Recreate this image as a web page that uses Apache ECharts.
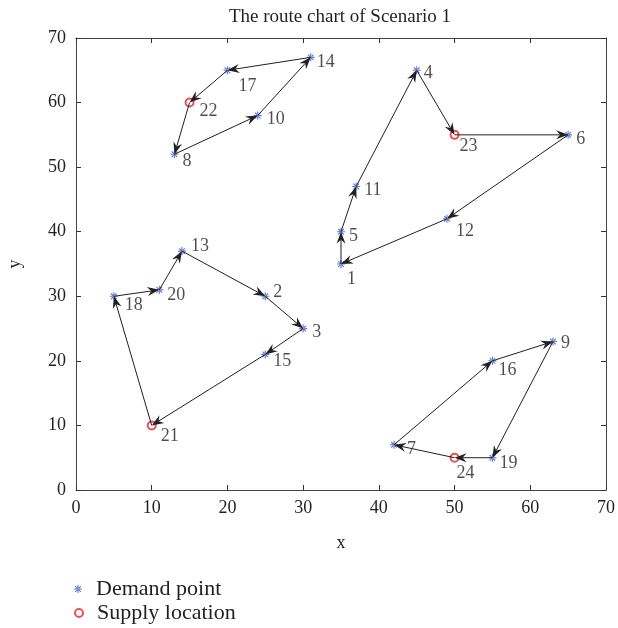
<!DOCTYPE html>
<html><head><meta charset="utf-8">
<script src="https://cdn.jsdelivr.net/npm/echarts@6/dist/echarts.min.js"></script>
<style>html,body{margin:0;padding:0;background:#fff}#c{width:618px;height:628px}</style>
</head><body><div id="c"></div>
<script>
// ---- data ----
const titleText = 'The route chart of Scenario 1';
const demandIds = [1,2,3,4,5,6,7,8,9,10,11,12,13,14,15,16,17,18,19,20];
const demandX   = [35,25,30,45,35,65,42,13,63,24,37,49,14,31,25,55,20,5,55,11];
const demandY   = [35,30,25,65,40,55,7,52,23,58,47,42,37,67,21,20,65,30,5,31];
const supplyIds = [21,22,23,24];
const supplyX   = [10,15,50,50];
const supplyY   = [10,60,55,5];
const routes = [
  [22,8,10,14,17,22],
  [23,6,12,1,5,11,4,23],
  [21,18,20,13,2,3,15,21],
  [24,7,16,9,19,24]
];
const xTicks = [0,10,20,30,40,50,60,70];
const yTicks = [0,10,20,30,40,50,60,70];
const legendNames = ['Demand point','Supply location'];

// ---- styling (label offsets from point centre, px) ----
const labelOffsets = {
  1:[6,15],2:[8,-4],3:[9,4],4:[7,3],5:[8,5],6:[8,4],7:[13,4],8:[8,7],9:[8,2],10:[9,4],
  11:[8,4],12:[9,12],13:[9,-5],14:[6,5],15:[8,7],16:[6,9],17:[11,16],18:[11,9],19:[7,6],20:[8,5],
  21:[8,11],22:[9,9],23:[4,11],24:[1,16]
};
const FONT = '"Liberation Serif", "DejaVu Serif", serif';
const TXT = '#231f20';
const STAR_SIZE = 8, CIRC_SIZE = 8;
const starPath = 'path://M-10 -1.4L10 -1.4L10 1.4L-10 1.4Z M-1.4 -10L1.4 -10L1.4 10L-1.4 10Z M-6 -8L8 6L6 8L-8 -6Z M-6 8L8 -6L6 -8L-8 6Z';

const pos = {};
demandIds.forEach((id,i)=>{ pos[id]=[demandX[i],demandY[i]]; });
supplyIds.forEach((id,i)=>{ pos[id]=[supplyX[i],supplyY[i]]; });

function pointData(ids, xs, ys, size) {
  return ids.map((id,i)=>({
    name: String(id),
    value: [xs[i], ys[i]],
    label: { offset: [labelOffsets[id][0]-size/2, labelOffsets[id][1]] }
  }));
}
const segs = [];
routes.forEach(r=>{ for(let i=0;i<r.length-1;i++){ const a=pos[r[i]], b=pos[r[i+1]]; segs.push([a[0],a[1],b[0],b[1]]); } });

const labelStyle = { show:true, position:'right', distance:0, formatter:p=>p.name, fontFamily:FONT, fontSize:18, color:TXT };

function axisCommon(ticks){
  return { min:ticks[0], max:ticks[ticks.length-1], interval:ticks[1]-ticks[0],
    splitLine:{show:false},
    axisLine:{show:true,onZero:false,lineStyle:{color:'#444',width:1}},
    axisTick:{show:true,inside:true,length:5,lineStyle:{color:'#333'}} };
}
function legendAt(name, top){
  return { data:[name], orient:'vertical', left:74, top:top, itemWidth:8, itemHeight:8, padding:0,
    textStyle:{ fontFamily:FONT, fontSize:22, color:TXT, padding:[0,0,0,9] } };
}

const chart = echarts.init(document.getElementById('c'), null, {renderer:'canvas'});
chart.setOption({
  animation:false,
  backgroundColor:'#fff',
  title:{ text:titleText, left:340, top:8, textAlign:'center', padding:0,
    textStyle:{ fontFamily:FONT, fontSize:19, fontWeight:'normal', color:TXT } },
  grid:{ left:76, right:12, top:38, bottom:138, outerBoundsMode:'none', containLabel:false },
  legend:[ legendAt(legendNames[0], 578), legendAt(legendNames[1], 602) ],
  xAxis:[
    Object.assign(axisCommon(xTicks),{ type:'value', position:'bottom', name:'x', nameLocation:'middle', nameGap:44,
      nameTextStyle:{fontFamily:FONT,fontSize:18,color:TXT},
      axisLabel:{fontFamily:FONT,fontSize:18,color:TXT,margin:9} }),
    Object.assign(axisCommon(xTicks),{ type:'value', position:'top', axisLabel:{show:false} })
  ],
  yAxis:[
    Object.assign(axisCommon(yTicks),{ type:'value', position:'left', name:'y', nameLocation:'middle', nameGap:52, nameRotate:90,
      nameTextStyle:{fontFamily:FONT,fontSize:18,color:TXT},
      axisLabel:{fontFamily:FONT,fontSize:18,color:TXT,margin:10} }),
    Object.assign(axisCommon(yTicks),{ type:'value', position:'right', axisLabel:{show:false} })
  ],
  series:[
    { name:legendNames[0], type:'scatter', symbol:starPath, symbolSize:STAR_SIZE,
      itemStyle:{color:'#3557c0'}, label:labelStyle, data:pointData(demandIds,demandX,demandY,STAR_SIZE), z:3 },
    { name:legendNames[1], type:'scatter', symbol:'emptyCircle', symbolSize:CIRC_SIZE,
      itemStyle:{color:'#e3262d', borderColor:'#e3262d', borderWidth:1}, label:labelStyle,
      data:pointData(supplyIds,supplyX,supplyY,CIRC_SIZE), z:3 },
    { name:'routes', type:'custom', z:4, data:segs, encode:{x:[0,2], y:[1,3]},
      renderItem:(params, api)=>{
        const p1 = api.coord([api.value(0), api.value(1)]);
        const p2 = api.coord([api.value(2), api.value(3)]);
        const dx=p2[0]-p1[0], dy=p2[1]-p1[1], L=Math.hypot(dx,dy);
        const ux=dx/L, uy=dy/L, px=-uy, py=ux;
        const hl=12, hw=4.5, nt=8;
        const back=[p2[0]-ux*hl, p2[1]-uy*hl];
        const left=[back[0]+px*hw, back[1]+py*hw], right=[back[0]-px*hw, back[1]-py*hw];
        const n=[p2[0]-ux*nt, p2[1]-uy*nt];
        return { type:'group', children:[
          { type:'line', shape:{x1:p1[0],y1:p1[1],x2:n[0],y2:n[1]}, style:{stroke:'#231f20', lineWidth:1} },
          { type:'polygon', shape:{points:[p2,left,n,right]}, style:{fill:'#231f20'} }
        ]};
      } }
  ]
});
</script>
</body></html>
